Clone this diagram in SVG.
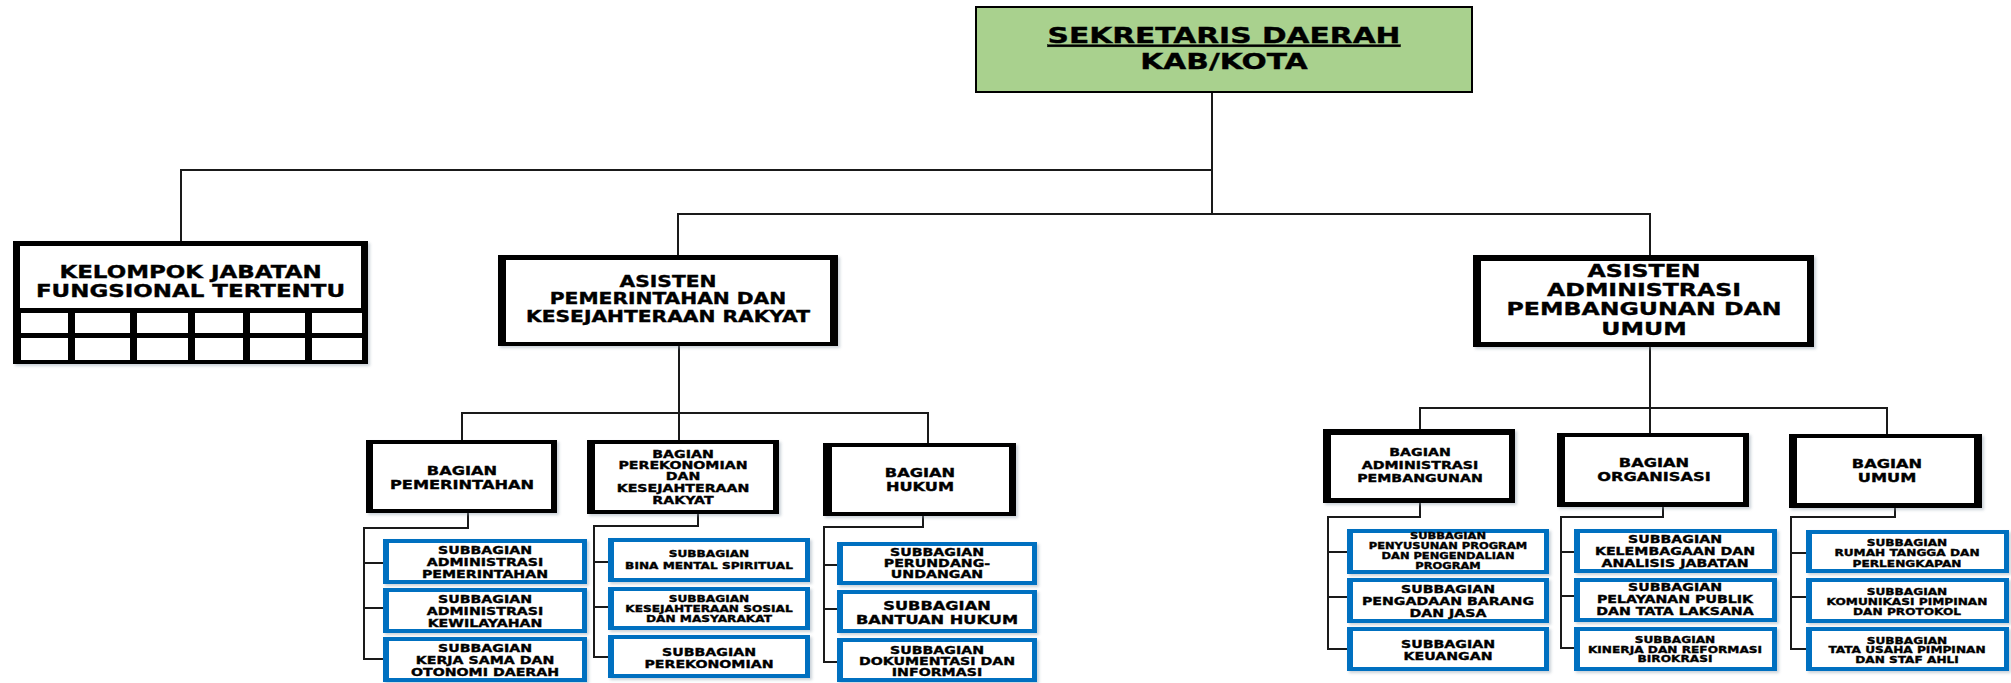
<svg xmlns="http://www.w3.org/2000/svg" width="2011" height="683" viewBox="0 0 2011 683">
<defs>
<style>
.t{font-family:"DejaVu Sans",Verdana,sans-serif;font-weight:bold;text-anchor:middle;fill:#000;stroke:#000;stroke-width:0.35px}
.blk{fill:#000}
.wht{fill:#fff}
.blu{fill:#0070c0}
.conn path{fill:none;stroke:#1a1a1a;stroke-width:2}
</style>
<filter id="sh" x="-5%" y="-5%" width="115%" height="125%">
<feDropShadow dx="2" dy="2" stdDeviation="1.5" flood-color="#8a9aaa" flood-opacity="0.45"/>
</filter>
</defs>
<rect width="2011" height="683" fill="#fff"/>

<g class="conn">
<path d="M1212,92 V214"/>
<path d="M181,241 V170 H1212"/>
<path d="M678,255 V214 H1650 V255"/>
<path d="M679,346 V440"/>
<path d="M462,440 V413 H928 V443"/>
<path d="M1650,347 V433"/>
<path d="M1420,429 V408 H1887 V434"/>
<path d="M468,513 V528 H364 V659 H383 M364,563 H383 M364,608 H383"/>
<path d="M698,514 V526 H594 V657 H608 M594,562 H608 M594,607 H608"/>
<path d="M923,516 V527 H824 V662 H837 M824,565 H837 M824,609 H837"/>
<path d="M1420,503 V517 H1328 V649 H1347 M1328,552 H1347 M1328,597 H1347"/>
<path d="M1663,507 V517 H1561 V648 H1575 M1561,552 H1575 M1561,596 H1575"/>
<path d="M1895,508 V517 H1791 V649 H1807 M1791,553 H1807 M1791,597 H1807"/>
</g>

<g id="sekda">
<rect x="976" y="7" width="496" height="85" fill="#a9d18e" stroke="#000" stroke-width="2"/>
<g transform="translate(1224 0) scale(1.35 1)" class="t" font-size="22">
<text x="0" y="43" text-decoration="underline">SEKRETARIS DAERAH</text>
<text x="0" y="69">KAB/KOTA</text>
</g>
</g>

<g id="kelompok">
<rect x="13" y="241" width="355" height="123" class="blk" filter="url(#sh)"/>
<rect x="20" y="246" width="341" height="62" class="wht"/>
<g class="wht">
<rect x="21" y="313" width="47" height="20"/><rect x="75" y="313" width="55" height="20"/><rect x="137" y="313" width="51" height="20"/><rect x="195" y="313" width="48" height="20"/><rect x="250" y="313" width="55" height="20"/><rect x="312" y="313" width="50" height="20"/>
<rect x="21" y="338" width="47" height="22"/><rect x="75" y="338" width="55" height="22"/><rect x="137" y="338" width="51" height="22"/><rect x="195" y="338" width="48" height="22"/><rect x="250" y="338" width="55" height="22"/><rect x="312" y="338" width="50" height="22"/>
</g>
<g transform="translate(190.5 0) scale(1.35 1)" class="t" font-size="17">
<text x="0" y="278">KELOMPOK JABATAN</text>
<text x="0" y="297">FUNGSIONAL TERTENTU</text>
</g>
</g>

<g id="asisten1">
<rect x="498" y="255" width="340" height="91" class="blk" filter="url(#sh)"/>
<rect x="506" y="260" width="324" height="82" class="wht"/>
<g transform="translate(668 0) scale(1.35 1)" class="t" font-size="15">
<text x="0" y="287">ASISTEN</text>
<text x="0" y="304">PEMERINTAHAN DAN</text>
<text x="0" y="322">KESEJAHTERAAN RAKYAT</text>
</g>
</g>

<g id="asisten2">
<rect x="1473" y="255" width="341" height="92" class="blk" filter="url(#sh)"/>
<rect x="1481" y="261" width="326" height="81" class="wht"/>
<g transform="translate(1644 0) scale(1.35 1)" class="t" font-size="17.5">
<text x="0" y="277">ASISTEN</text>
<text x="0" y="296">ADMINISTRASI</text>
<text x="0" y="315">PEMBANGUNAN DAN</text>
<text x="0" y="335">UMUM</text>
</g>
</g>

<g id="bag-pemerintahan">
<rect x="366" y="440" width="191" height="73" class="blk" filter="url(#sh)"/>
<rect x="373" y="444" width="178" height="65" class="wht"/>
<g transform="translate(462 0) scale(1.35 1)" class="t" font-size="12">
<text x="0" y="475">BAGIAN</text>
<text x="0" y="489">PEMERINTAHAN</text>
</g>
</g>

<g id="bag-perekonomian">
<rect x="587" y="440" width="192" height="74" class="blk" filter="url(#sh)"/>
<rect x="595" y="444" width="178" height="66" class="wht"/>
<g transform="translate(683 0) scale(1.35 1)" class="t" font-size="10.5">
<text x="0" y="458">BAGIAN</text>
<text x="0" y="469">PEREKONOMIAN</text>
<text x="0" y="480">DAN</text>
<text x="0" y="492">KESEJAHTERAAN</text>
<text x="0" y="504">RAKYAT</text>
</g>
</g>

<g id="bag-hukum">
<rect x="823" y="443" width="193" height="73" class="blk" filter="url(#sh)"/>
<rect x="832" y="447" width="177" height="65" class="wht"/>
<g transform="translate(920 0) scale(1.35 1)" class="t" font-size="12">
<text x="0" y="477">BAGIAN</text>
<text x="0" y="491">HUKUM</text>
</g>
</g>

<g id="bag-adminpemb">
<rect x="1323" y="429" width="192" height="74" class="blk" filter="url(#sh)"/>
<rect x="1331" y="435" width="178" height="63" class="wht"/>
<g transform="translate(1420 0) scale(1.35 1)" class="t" font-size="10.5">
<text x="0" y="456">BAGIAN</text>
<text x="0" y="469">ADMINISTRASI</text>
<text x="0" y="482">PEMBANGUNAN</text>
</g>
</g>

<g id="bag-organisasi">
<rect x="1557" y="433" width="192" height="74" class="blk" filter="url(#sh)"/>
<rect x="1565" y="437" width="178" height="65" class="wht"/>
<g transform="translate(1654 0) scale(1.35 1)" class="t" font-size="12">
<text x="0" y="467">BAGIAN</text>
<text x="0" y="481">ORGANISASI</text>
</g>
</g>

<g id="bag-umum">
<rect x="1789" y="434" width="193" height="74" class="blk" filter="url(#sh)"/>
<rect x="1797" y="438" width="177" height="65" class="wht"/>
<g transform="translate(1887 0) scale(1.35 1)" class="t" font-size="12">
<text x="0" y="468">BAGIAN</text>
<text x="0" y="482">UMUM</text>
</g>
</g>

<!-- Subbagian Pemerintahan -->
<g id="sub-adm-pem">
<rect x="383" y="539" width="204" height="45" class="blu" filter="url(#sh)"/>
<rect x="389" y="543" width="193" height="37" class="wht"/>
<g transform="translate(485 0) scale(1.35 1)" class="t" font-size="10.5">
<text x="0" y="554">SUBBAGIAN</text><text x="0" y="566">ADMINISTRASI</text><text x="0" y="578">PEMERINTAHAN</text>
</g>
</g>
<g id="sub-adm-kew">
<rect x="383" y="588" width="204" height="45" class="blu" filter="url(#sh)"/>
<rect x="389" y="592" width="193" height="37" class="wht"/>
<g transform="translate(485 0) scale(1.35 1)" class="t" font-size="10.5">
<text x="0" y="603">SUBBAGIAN</text><text x="0" y="615">ADMINISTRASI</text><text x="0" y="627">KEWILAYAHAN</text>
</g>
</g>
<g id="sub-kerjasama">
<rect x="383" y="637" width="204" height="45" class="blu" filter="url(#sh)"/>
<rect x="389" y="641" width="193" height="37" class="wht"/>
<g transform="translate(485 0) scale(1.35 1)" class="t" font-size="10.5">
<text x="0" y="652">SUBBAGIAN</text><text x="0" y="664">KERJA SAMA DAN</text><text x="0" y="676">OTONOMI DAERAH</text>
</g>
</g>

<!-- Subbagian Perekonomian -->
<g id="sub-bina">
<rect x="608" y="538" width="202" height="44" class="blu" filter="url(#sh)"/>
<rect x="614" y="542" width="191" height="36" class="wht"/>
<g transform="translate(709 0) scale(1.35 1)" class="t" font-size="9">
<text x="0" y="557">SUBBAGIAN</text><text x="0" y="569">BINA MENTAL SPIRITUAL</text>
</g>
</g>
<g id="sub-kesos">
<rect x="608" y="587" width="202" height="43" class="blu" filter="url(#sh)"/>
<rect x="614" y="591" width="191" height="35" class="wht"/>
<g transform="translate(709 0) scale(1.35 1)" class="t" font-size="9">
<text x="0" y="602">SUBBAGIAN</text><text x="0" y="612">KESEJAHTERAAN SOSIAL</text><text x="0" y="622">DAN MASYARAKAT</text>
</g>
</g>
<g id="sub-perek">
<rect x="608" y="635" width="202" height="43" class="blu" filter="url(#sh)"/>
<rect x="614" y="639" width="191" height="35" class="wht"/>
<g transform="translate(709 0) scale(1.35 1)" class="t" font-size="10.5">
<text x="0" y="656">SUBBAGIAN</text><text x="0" y="668">PEREKONOMIAN</text>
</g>
</g>

<!-- Subbagian Hukum -->
<g id="sub-perundang">
<rect x="837" y="542" width="200" height="43" class="blu" filter="url(#sh)"/>
<rect x="843" y="546" width="189" height="35" class="wht"/>
<g transform="translate(937 0) scale(1.35 1)" class="t" font-size="10.5">
<text x="0" y="556">SUBBAGIAN</text><text x="0" y="567">PERUNDANG-</text><text x="0" y="578">UNDANGAN</text>
</g>
</g>
<g id="sub-bantuan">
<rect x="837" y="590" width="200" height="43" class="blu" filter="url(#sh)"/>
<rect x="843" y="594" width="189" height="35" class="wht"/>
<g transform="translate(937 0) scale(1.35 1)" class="t" font-size="12">
<text x="0" y="610">SUBBAGIAN</text><text x="0" y="624">BANTUAN HUKUM</text>
</g>
</g>
<g id="sub-dokinfo">
<rect x="837" y="638" width="200" height="44" class="blu" filter="url(#sh)"/>
<rect x="843" y="642" width="189" height="36" class="wht"/>
<g transform="translate(937 0) scale(1.35 1)" class="t" font-size="10.5">
<text x="0" y="654">SUBBAGIAN</text><text x="0" y="665">DOKUMENTASI DAN</text><text x="0" y="676">INFORMASI</text>
</g>
</g>

<!-- Subbagian Administrasi Pembangunan -->
<g id="sub-penyusunan">
<rect x="1347" y="529" width="202" height="45" class="blu" filter="url(#sh)"/>
<rect x="1353" y="533" width="191" height="37" class="wht"/>
<g transform="translate(1448 0) scale(1.35 1)" class="t" font-size="8.5">
<text x="0" y="539">SUBBAGIAN</text><text x="0" y="549">PENYUSUNAN PROGRAM</text><text x="0" y="559">DAN PENGENDALIAN</text><text x="0" y="569">PROGRAM</text>
</g>
</g>
<g id="sub-pengadaan">
<rect x="1347" y="578" width="202" height="45" class="blu" filter="url(#sh)"/>
<rect x="1353" y="582" width="191" height="37" class="wht"/>
<g transform="translate(1448 0) scale(1.35 1)" class="t" font-size="10.5">
<text x="0" y="593">SUBBAGIAN</text><text x="0" y="605">PENGADAAN BARANG</text><text x="0" y="617">DAN JASA</text>
</g>
</g>
<g id="sub-keuangan">
<rect x="1347" y="627" width="202" height="44" class="blu" filter="url(#sh)"/>
<rect x="1353" y="631" width="191" height="36" class="wht"/>
<g transform="translate(1448 0) scale(1.35 1)" class="t" font-size="10.5">
<text x="0" y="648">SUBBAGIAN</text><text x="0" y="660">KEUANGAN</text>
</g>
</g>

<!-- Subbagian Organisasi -->
<g id="sub-kelembagaan">
<rect x="1574" y="529" width="203" height="44" class="blu" filter="url(#sh)"/>
<rect x="1580" y="533" width="192" height="36" class="wht"/>
<g transform="translate(1675 0) scale(1.35 1)" class="t" font-size="10.5">
<text x="0" y="543">SUBBAGIAN</text><text x="0" y="555">KELEMBAGAAN DAN</text><text x="0" y="567">ANALISIS JABATAN</text>
</g>
</g>
<g id="sub-pelayanan">
<rect x="1574" y="578" width="203" height="44" class="blu" filter="url(#sh)"/>
<rect x="1580" y="582" width="192" height="36" class="wht"/>
<g transform="translate(1675 0) scale(1.35 1)" class="t" font-size="10.5">
<text x="0" y="591">SUBBAGIAN</text><text x="0" y="603">PELAYANAN PUBLIK</text><text x="0" y="615">DAN TATA LAKSANA</text>
</g>
</g>
<g id="sub-kinerja">
<rect x="1574" y="627" width="203" height="44" class="blu" filter="url(#sh)"/>
<rect x="1580" y="631" width="192" height="36" class="wht"/>
<g transform="translate(1675 0) scale(1.35 1)" class="t" font-size="9">
<text x="0" y="643">SUBBAGIAN</text><text x="0" y="653">KINERJA DAN REFORMASI</text><text x="0" y="662">BIROKRASI</text>
</g>
</g>

<!-- Subbagian Umum -->
<g id="sub-rumahtangga">
<rect x="1806" y="530" width="203" height="43" class="blu" filter="url(#sh)"/>
<rect x="1812" y="534" width="192" height="35" class="wht"/>
<g transform="translate(1907 0) scale(1.35 1)" class="t" font-size="9">
<text x="0" y="546">SUBBAGIAN</text><text x="0" y="556">RUMAH TANGGA DAN</text><text x="0" y="567">PERLENGKAPAN</text>
</g>
</g>
<g id="sub-komunikasi">
<rect x="1806" y="578" width="203" height="45" class="blu" filter="url(#sh)"/>
<rect x="1812" y="582" width="192" height="37" class="wht"/>
<g transform="translate(1907 0) scale(1.35 1)" class="t" font-size="9">
<text x="0" y="595">SUBBAGIAN</text><text x="0" y="605">KOMUNIKASI PIMPINAN</text><text x="0" y="615">DAN PROTOKOL</text>
</g>
</g>
<g id="sub-tatausaha">
<rect x="1806" y="627" width="203" height="44" class="blu" filter="url(#sh)"/>
<rect x="1812" y="631" width="192" height="36" class="wht"/>
<g transform="translate(1907 0) scale(1.35 1)" class="t" font-size="9">
<text x="0" y="644">SUBBAGIAN</text><text x="0" y="653">TATA USAHA PIMPINAN</text><text x="0" y="663">DAN STAF AHLI</text>
</g>
</g>
</svg>
